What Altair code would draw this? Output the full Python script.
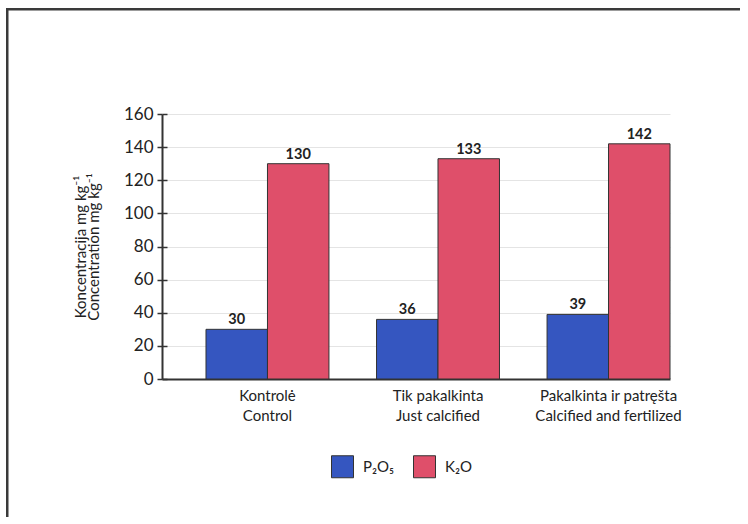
import altair as alt
import pandas as pd

groups_lt = ["Kontrolė", "Tik pakalkinta", "Pakalkinta ir patręšta"]
groups_en = ["Control", "Just calcified", "Calcified and fertilized"]
series = ["P₂O₅", "K₂O"]
p2o5 = [30, 36, 39]
k2o = [130, 133, 142]
y_ticks = [0, 20, 40, 60, 80, 100, 120, 140, 160]
y_title = ["Koncentracija mg kg⁻¹", "Concentration mg kg⁻¹"]
colors = ["#3556c0", "#df4f6a"]

order = [f"{a}|{b}" for a, b in zip(groups_lt, groups_en)]
rows = []
for i, g in enumerate(order):
    rows.append({"group": g, "series": series[0], "value": p2o5[i]})
    rows.append({"group": g, "series": series[1], "value": k2o[i]})
df = pd.DataFrame(rows)

FONT = "Lato"
DARK = "#333333"

x = alt.X(
    "group:N", sort=order,
    scale=alt.Scale(paddingInner=0.279, paddingOuter=0.129, align=1),
    axis=alt.Axis(title=None, labelExpr="split(datum.label, '|')", ticks=False,
                  domainColor=DARK, domainWidth=2, labelFontSize=15,
                  labelLineHeight=20, labelPadding=9, labelAngle=0,
                  labelColor="#222222", labelFont=FONT, grid=False),
)
xo = alt.XOffset("series:N", sort=series, scale=alt.Scale(paddingInner=0, paddingOuter=0))

y_main = alt.Y(
    "value:Q", scale=alt.Scale(domain=[0, 160]),
    axis=alt.Axis(values=y_ticks, title=y_title, titleFont=FONT, titleFontSize=15,
                  titleFontWeight="normal", titleColor="#222222", titlePadding=22,
                  titleLineHeight=13,
                  labelFont=FONT, labelFontSize=17, labelColor="#222222", labelPadding=4,
                  domainColor=DARK, domainWidth=2, tickColor=DARK, tickWidth=1.5,
                  tickSize=5, grid=True, gridColor="#e4e4e4", gridWidth=1),
)
y_second = alt.Y(
    "value:Q", scale=alt.Scale(domain=[0, 160]),
    axis=alt.Axis(values=y_ticks, orient="left", offset=-5, labels=False, domain=False,
                  grid=False, title=None, tickColor=DARK, tickWidth=1.5, tickSize=5),
)

color = alt.Color(
    "series:N", sort=series,
    scale=alt.Scale(domain=series, range=colors),
    legend=alt.Legend(title=None, orient="none", legendX=169, legendY=341,
                      direction="horizontal", symbolType="square", symbolSize=484,
                      symbolStrokeColor=DARK, symbolStrokeWidth=1, symbolOpacity=1,
                      labelFont=FONT, labelFontSize=15, labelColor="#222222",
                      labelOffset=9, columnPadding=16),
)

frame_data = alt.Data(values=[{"k": 1}])
frame_top = alt.Chart(frame_data).mark_rect(color="#3a3a3a", strokeWidth=0).encode(
    x=alt.value(-156), x2=alt.value(586), y=alt.value(-106), y2=alt.value(-103.5)
)
frame_left = alt.Chart(frame_data).mark_rect(color="#3a3a3a", strokeWidth=0).encode(
    x=alt.value(-156), x2=alt.value(-153.5), y=alt.value(-106), y2=alt.value(410)
)

bars = alt.Chart(df).mark_bar(stroke=DARK, strokeWidth=1, opacity=1).encode(
    x=x, xOffset=xo, y=y_main, color=color
)

labels = alt.Chart(df).mark_text(
    baseline="bottom", dy=-2, fontSize=14.5, fontWeight="bold", font=FONT, color="#222222"
).encode(
    x=x, xOffset=xo, y=y_second, text=alt.Text("value:Q")
)

chart = alt.layer(frame_top, frame_left, bars, labels).resolve_axis(y="independent").properties(
    width=508, height=265,
    autosize=alt.AutoSizeParams(type="none"),
    padding={"left": 162, "top": 114, "right": 70, "bottom": 138},
    background="white",
).configure_view(stroke=None)

chart.save("out.html", embed_options={"renderer": "svg", "actions": False})
